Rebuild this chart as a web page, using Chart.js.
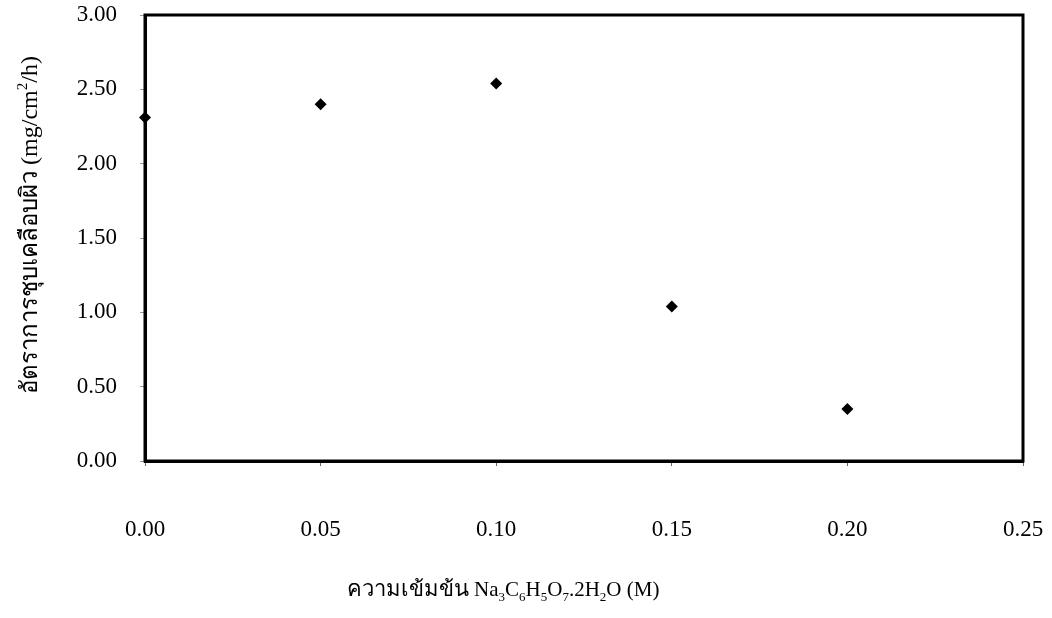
<!DOCTYPE html>
<html>
<head>
<meta charset="utf-8">
<script src="https://cdn.jsdelivr.net/npm/chart.js@4"></script>
<style>
  html, body { margin: 0; padding: 0; background: #fff; }
  #wrap { width: 1052px; height: 618px; }
</style>
</head>
<body>
<div id="wrap"><canvas id="c" width="1052" height="618"></canvas></div>
<script>
// Sodium citrate concentration (M) and plating rate (mg/cm2/h)
const concentrations = [0.00, 0.05, 0.10, 0.15, 0.20];
const platingRates = [2.31, 2.40, 2.54, 1.04, 0.35];
const xTicks = [0.00, 0.05, 0.10, 0.15, 0.20, 0.25];
const yTicks = [0.00, 0.50, 1.00, 1.50, 2.00, 2.50, 3.00];

const FONT = "'Liberation Serif', 'Times New Roman', 'DejaVu Serif', serif";

// Axis titles with sub/superscripts, as text runs (size = font px)
const xTitleRuns = [
  { t: 'ความเข้มข้น ', size: 22 },
  { t: 'Na', size: 21 }, { t: '3', sub: true, size: 21 }, { t: 'C', size: 21 }, { t: '6', sub: true, size: 21 },
  { t: 'H', size: 21 }, { t: '5', sub: true, size: 21 }, { t: 'O', size: 21 }, { t: '7', sub: true, size: 21 },
  { t: '.2H', size: 21 }, { t: '2', sub: true, size: 21 }, { t: 'O (M)', size: 21 }
];
const yTitleRuns = [
  { t: 'อัตราการชุบเคลือบผิว (mg/cm', size: 24 }, { t: '2', sup: true, size: 24 }, { t: '/h)', size: 24 }
];

function drawRuns(ctx, runs, cx, baseline) {
  const fontFor = r => (r.sub || r.sup ? Math.round(r.size * 0.62) : r.size) + 'px ' + FONT;
  let total = 0;
  runs.forEach(r => { ctx.font = fontFor(r); total += ctx.measureText(r.t).width; });
  let x = cx - total / 2;
  ctx.textAlign = 'left';
  ctx.textBaseline = 'alphabetic';
  runs.forEach(r => {
    ctx.font = fontFor(r);
    let y = baseline;
    if (r.sub) y += r.size * 0.22;
    if (r.sup) y -= r.size * 0.42;
    ctx.fillText(r.t, x, y);
    x += ctx.measureText(r.t).width;
  });
}

const framePlugin = {
  id: 'frameAndTitles',
  afterDraw(chart) {
    const { ctx, chartArea: a } = chart;
    ctx.save();
    ctx.strokeStyle = '#000';
    ctx.lineWidth = 3;
    ctx.strokeRect(a.left, a.top, a.right - a.left, a.bottom - a.top);
    ctx.fillStyle = '#000';
    drawRuns(ctx, xTitleRuns, 503, 596);
    ctx.translate(37, 225);
    ctx.rotate(-Math.PI / 2);
    drawRuns(ctx, yTitleRuns, 0, 0);
    ctx.restore();
  }
};

function noScalePadding(s) {
  s.paddingTop = 0; s.paddingBottom = 0; s.paddingLeft = 0; s.paddingRight = 0;
}

new Chart(document.getElementById('c'), {
  type: 'scatter',
  data: {
    datasets: [{
      data: concentrations.map((x, i) => ({ x, y: platingRates[i] })),
      pointStyle: 'rectRot',
      pointRadius: 6,
      backgroundColor: '#000',
      borderColor: '#000',
      borderWidth: 0,
      clip: false
    }]
  },
  options: {
    responsive: false,
    animation: false,
    layout: { padding: { left: 0, right: 29, top: 15, bottom: 0 } },
    plugins: { legend: { display: false }, tooltip: { enabled: false } },
    scales: {
      x: {
        type: 'linear',
        min: 0, max: 0.25,
        afterBuildTicks: s => { s.ticks = xTicks.map(v => ({ value: v })); },
        afterFit: s => { s.height = 157; noScalePadding(s); },
        border: { display: true, color: '#000', width: 3 },
        grid: { drawOnChartArea: false, drawTicks: true, tickLength: 5, color: '#666', lineWidth: 1 },
        ticks: {
          color: '#000', padding: 50,
          font: { family: FONT, size: 23 },
          callback: v => v.toFixed(2)
        }
      },
      y: {
        type: 'linear',
        min: 0, max: 3,
        afterBuildTicks: s => { s.ticks = yTicks.map(v => ({ value: v })); },
        afterFit: s => { s.width = 145; noScalePadding(s); },
        border: { display: true, color: '#000', width: 3 },
        grid: { drawOnChartArea: false, drawTicks: true, tickLength: 5, color: '#999', lineWidth: 1 },
        ticks: {
          color: '#000', padding: 23,
          font: { family: FONT, size: 23 },
          callback: v => v.toFixed(2)
        }
      }
    }
  },
  plugins: [framePlugin]
});
</script>
</body>
</html>
